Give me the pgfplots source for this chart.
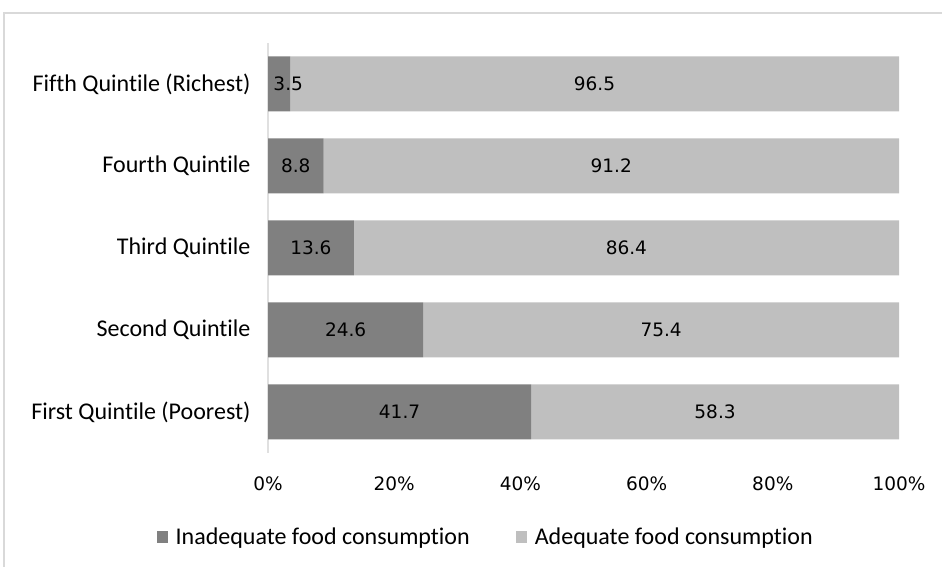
\documentclass[border=0pt]{standalone}
\usepackage{pgfplots}
\pgfplotsset{compat=1.18}
\usepackage{pgfplotstable}
\usepackage{fontspec}
\setmainfont{Carlito}[Ligatures={NoCommon}]
\newfontfamily\numfont{DejaVu Sans}
\definecolor{darkbar}{HTML}{808080}
\definecolor{lightbar}{HTML}{BFBFBF}
\definecolor{framecol}{HTML}{D9D9D9}
\definecolor{axiscol}{HTML}{E0E0E0}
\pgfplotstableread{
y inad adeq
0 41.7 58.3
1 24.6 75.4
2 13.6 86.4
3 8.8 91.2
4 3.5 96.5
}\datatable
% label positions (centre of each segment)
\pgfplotstableread{
y xi li xa la
0 20.85 41.7 70.85 58.3
1 12.3 24.6 62.3 75.4
2 6.8 13.6 56.8 86.4
3 4.4 8.8 54.4 91.2
4 3.2 3.5 51.75 96.5
}\labeltable
\begin{document}
\begin{tikzpicture}
\useasboundingbox (0,0) rectangle (942bp,567bp);
\draw[framecol, line width=2bp] (4bp,0) -- (4bp,554bp) -- (942bp,554bp);
\begin{axis}[
  at={(268bp,114bp)}, anchor=south west,
  width=631bp, height=410bp, scale only axis,
  xbar stacked, bar width=55bp,
  xmin=0, xmax=100, ymin=-0.5, ymax=4.5,
  xtick={0,20,40,60,80,100},
  xticklabel={\pgfmathprintnumber{\tick}\%},
  /pgf/number format/assume math mode=true,
  ytick={0,1,2,3,4},
  yticklabels={First Quintile (Poorest),Second Quintile,Third Quintile,Fourth Quintile,Fifth Quintile (Richest)},
  axis x line*=bottom, axis y line*=left,
  x axis line style={draw=none},
  y axis line style={-, draw=axiscol, line width=1.2bp},
  major tick length=0pt,
  xticklabel style={font=\numfont\fontsize{18.5bp}{20bp}\selectfont, yshift=-20bp},
  yticklabel style={font=\fontsize{24bp}{28bp}\selectfont, xshift=-14bp},
  legend style={at={(0.345,-0.205)}, anchor=center, draw=none,
    font=\fontsize{24bp}{28bp}\selectfont, legend columns=2,
    /tikz/every even column/.append style={column sep=44bp}},
  legend image code/.code={\fill[#1] (0bp,-6bp) rectangle (11bp,6bp); \path (17bp,0bp);},
]
\addplot[fill=darkbar, draw=none] table[x=inad, y=y]{\datatable};
\addplot[fill=lightbar, draw=none] table[x=adeq, y=y]{\datatable};
\legend{Inadequate food consumption, Adequate food consumption}
\end{axis}
\begin{axis}[
  at={(268bp,114bp)}, anchor=south west,
  width=631bp, height=410bp, scale only axis,
  xmin=0, xmax=100, ymin=-0.5, ymax=4.5,
  hide axis,
  every node near coord/.append style={anchor=center, font=\numfont\fontsize{18.5bp}{20bp}\selectfont, text=black},
]
\addplot[draw=none, mark=none, nodes near coords, point meta=explicit symbolic] table[x=xi, y=y, meta=li]{\labeltable};
\addplot[draw=none, mark=none, nodes near coords, point meta=explicit symbolic] table[x=xa, y=y, meta=la]{\labeltable};
\end{axis}
\end{tikzpicture}
\end{document}
